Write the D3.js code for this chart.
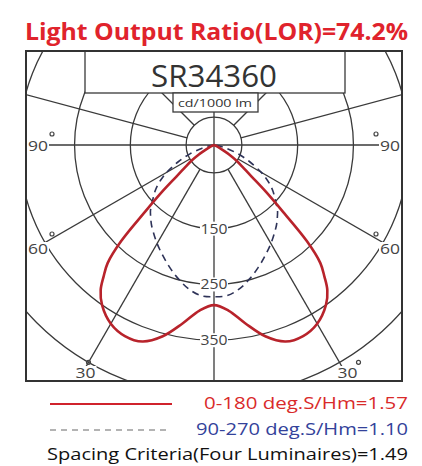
<!DOCTYPE html>
<html>
<head>
<meta charset="utf-8">
<script src="https://cdn.jsdelivr.net/npm/d3@7"></script>
<style>
  html, body { margin: 0; padding: 0; background: #fff; }
  svg { display: block; }
</style>
</head>
<body>
<svg id="chart" width="422" height="466"></svg>
<script>
// Polar luminous intensity curves (cd/1000 lm), gamma measured from nadir
const gammaAngles   = [0, 5, 10, 15, 20, 25, 30, 35, 38, 40, 42, 44, 46, 48, 50, 52, 55, 58, 60, 65, 70, 75, 80, 90];
const planeC0_180   = [287, 298, 325, 355, 375, 378, 370, 350, 330, 308, 285, 240, 170, 125, 88, 68, 50, 32, 20, 6, 1, 0, 0, 0];
const planeC90_270  = [272, 271, 262, 248, 233, 218, 204, 190, 182, 176, 170, 164, 156, 148, 141, 134, 122, 108, 98, 70, 45, 22, 8, 0];

const ringValues    = [50, 150, 250, 350, 450];
const ringLabels    = ["150", "250", "350"];
const spokeAngles   = [0, 30, 60, 90, 105, 135, 180];
const angleLabels   = ["30", "60", "90"];

const titleText     = "Light Output Ratio(LOR)=74.2%";
const modelName     = "SR34360";
const unitText      = "cd/1000 lm";
const legendRed     = "0-180 deg.S/Hm=1.57";
const legendBlue    = "90-270 deg.S/Hm=1.10";
const spacingText   = "Spacing Criteria(Four Luminaires)=1.49";

const svg = d3.select("#chart");
const font = "'Open Sans', 'DejaVu Sans', sans-serif";

// frame and polar origin
const frame = {x0: 26, y0: 51, x1: 402, y1: 381};
const cx = 214, cy = 145;
const r = d3.scaleLinear().domain([0, 450]).range([0, 251]);
const rad = d => d * Math.PI / 180;
const px = (g, v) => cx + r(v) * Math.sin(rad(g));
const py = (g, v) => cy + r(v) * Math.cos(rad(g));

// title
svg.append("text")
  .attr("x", 25).attr("y", 40)
  .attr("font-family", font).attr("font-weight", 700).attr("font-size", 23)
  .attr("fill", "#e0232c")
  .attr("textLength", 383).attr("lengthAdjust", "spacingAndGlyphs")
  .text(titleText);

svg.append("clipPath").attr("id", "frameClip")
  .append("rect")
  .attr("x", frame.x0).attr("y", frame.y0)
  .attr("width", frame.x1 - frame.x0).attr("height", frame.y1 - frame.y0);

const plot = svg.append("g").attr("clip-path", "url(#frameClip)");
const gridColor = "#3a3a3a";

// rings
plot.selectAll("circle.ring").data(ringValues).join("circle")
  .attr("class", "ring")
  .attr("cx", cx).attr("cy", cy).attr("r", d => r(d))
  .attr("fill", "none").attr("stroke", gridColor).attr("stroke-width", 1.3);

// spokes (both sides of the vertical axis)
const spokes = [];
spokeAngles.forEach(a => {
  spokes.push(a);
  if (a !== 0 && a !== 180) spokes.push(-a);
});
plot.selectAll("line.spoke").data(spokes).join("line")
  .attr("class", "spoke")
  .attr("x1", d => (Math.abs(d) % 90 === 0) ? cx : px(d, 50))
  .attr("y1", d => (Math.abs(d) % 90 === 0) ? cy : py(d, 50))
  .attr("x2", d => px(d, 900)).attr("y2", d => py(d, 900))
  .attr("stroke", gridColor).attr("stroke-width", 1.3);

// curves, mirrored about the nadir
function fullCurve(values) {
  const pts = [];
  for (let i = gammaAngles.length - 1; i >= 0; i--) pts.push([-gammaAngles[i], values[i]]);
  for (let i = 1; i < gammaAngles.length; i++) pts.push([gammaAngles[i], values[i]]);
  return pts;
}
const curveLine = d3.line()
  .x(d => px(d[0], d[1]))
  .y(d => py(d[0], d[1]))
  .curve(d3.curveCatmullRom.alpha(0.5));

plot.append("path")
  .attr("d", curveLine(fullCurve(planeC90_270)))
  .attr("fill", "none").attr("stroke", "#2e3358").attr("stroke-width", 1.6)
  .attr("stroke-dasharray", "7,5");

plot.append("path")
  .attr("d", curveLine(fullCurve(planeC0_180)))
  .attr("fill", "none").attr("stroke", "#b8232b").attr("stroke-width", 2.6);

// model name box
plot.append("rect")
  .attr("x", 85).attr("y", frame.y0).attr("width", 260).attr("height", 93 - frame.y0)
  .attr("fill", "#fff").attr("stroke", gridColor).attr("stroke-width", 1.3);
svg.append("text")
  .attr("x", 214).attr("y", 87).attr("text-anchor", "middle")
  .attr("font-family", font).attr("font-size", 31).attr("fill", "#333")
  .attr("textLength", 126).attr("lengthAdjust", "spacingAndGlyphs")
  .text(modelName);

// unit box
svg.append("rect")
  .attr("x", 173).attr("y", 93).attr("width", 85).attr("height", 19)
  .attr("fill", "#fff").attr("stroke", gridColor).attr("stroke-width", 1.3);
svg.append("text")
  .attr("x", 215).attr("y", 107).attr("text-anchor", "middle")
  .attr("font-family", font).attr("font-size", 11).attr("fill", "#333")
  .attr("textLength", 74).attr("lengthAdjust", "spacingAndGlyphs")
  .text(unitText);

// ring value labels along the nadir
const ringLabelG = svg.append("g");
ringLabels.forEach(t => {
  const y = py(0, +t);
  ringLabelG.append("rect")
    .attr("x", cx - 14).attr("y", y - 7).attr("width", 28).attr("height", 14)
    .attr("fill", "#fff");
  ringLabelG.append("text")
    .attr("x", cx).attr("y", y + 5).attr("text-anchor", "middle")
    .attr("font-family", font).attr("font-size", 14).attr("fill", "#444")
    .attr("textLength", 27).attr("lengthAdjust", "spacingAndGlyphs")
    .text(t);
});

// angle labels
function angleLabel(t, x, y, anchor, degX, degY) {
  svg.append("rect")
    .attr("x", anchor === "start" ? x - 1 : x - 21).attr("y", y - 12)
    .attr("width", 22).attr("height", 14).attr("fill", "#fff");
  svg.append("text")
    .attr("x", x).attr("y", y).attr("text-anchor", anchor)
    .attr("font-family", font).attr("font-size", 14).attr("fill", "#444")
    .attr("textLength", 20).attr("lengthAdjust", "spacingAndGlyphs")
    .text(t);
  svg.append("circle")
    .attr("cx", degX).attr("cy", degY).attr("r", 2)
    .attr("fill", "none").attr("stroke", "#444").attr("stroke-width", 1.2);
}
// 90 deg on the horizontal line, 60 deg where the spoke meets the frame, 30 deg on the outer ring
angleLabel(angleLabels[2], 28, 151, "start", 52, 134);
angleLabel(angleLabels[2], 400, 151, "end", 376, 134);
angleLabel(angleLabels[1], 28, 254, "start", 52, 234);
angleLabel(angleLabels[1], 400, 254, "end", 376, 234);
angleLabel(angleLabels[0], px(-30, 450) - 13, 378, "start", px(-30, 450), py(-30, 450));
angleLabel(angleLabels[0], px(30, 450) + 18, 378, "end", px(30, 450) + 19, py(30, 450));

// frame
svg.append("rect")
  .attr("x", frame.x0).attr("y", frame.y0)
  .attr("width", frame.x1 - frame.x0).attr("height", frame.y1 - frame.y0)
  .attr("fill", "none").attr("stroke", "#333").attr("stroke-width", 2);

// legend
svg.append("line")
  .attr("x1", 50).attr("x2", 172).attr("y1", 404).attr("y2", 404)
  .attr("stroke", "#d0232c").attr("stroke-width", 2);
svg.append("line")
  .attr("x1", 50).attr("x2", 170).attr("y1", 430).attr("y2", 430)
  .attr("stroke", "#9a9a9a").attr("stroke-width", 1.3).attr("stroke-dasharray", "6,5");

svg.append("text")
  .attr("x", 408).attr("y", 409).attr("text-anchor", "end")
  .attr("font-family", font).attr("font-size", 17).attr("fill", "#d92a2a")
  .attr("textLength", 204).attr("lengthAdjust", "spacingAndGlyphs")
  .text(legendRed);
svg.append("text")
  .attr("x", 408).attr("y", 435).attr("text-anchor", "end")
  .attr("font-family", font).attr("font-size", 17).attr("fill", "#33429a")
  .attr("textLength", 212).attr("lengthAdjust", "spacingAndGlyphs")
  .text(legendBlue);
svg.append("text")
  .attr("x", 408).attr("y", 460).attr("text-anchor", "end")
  .attr("font-family", font).attr("font-size", 17).attr("fill", "#111")
  .attr("textLength", 361).attr("lengthAdjust", "spacingAndGlyphs")
  .text(spacingText);
</script>
</body>
</html>
